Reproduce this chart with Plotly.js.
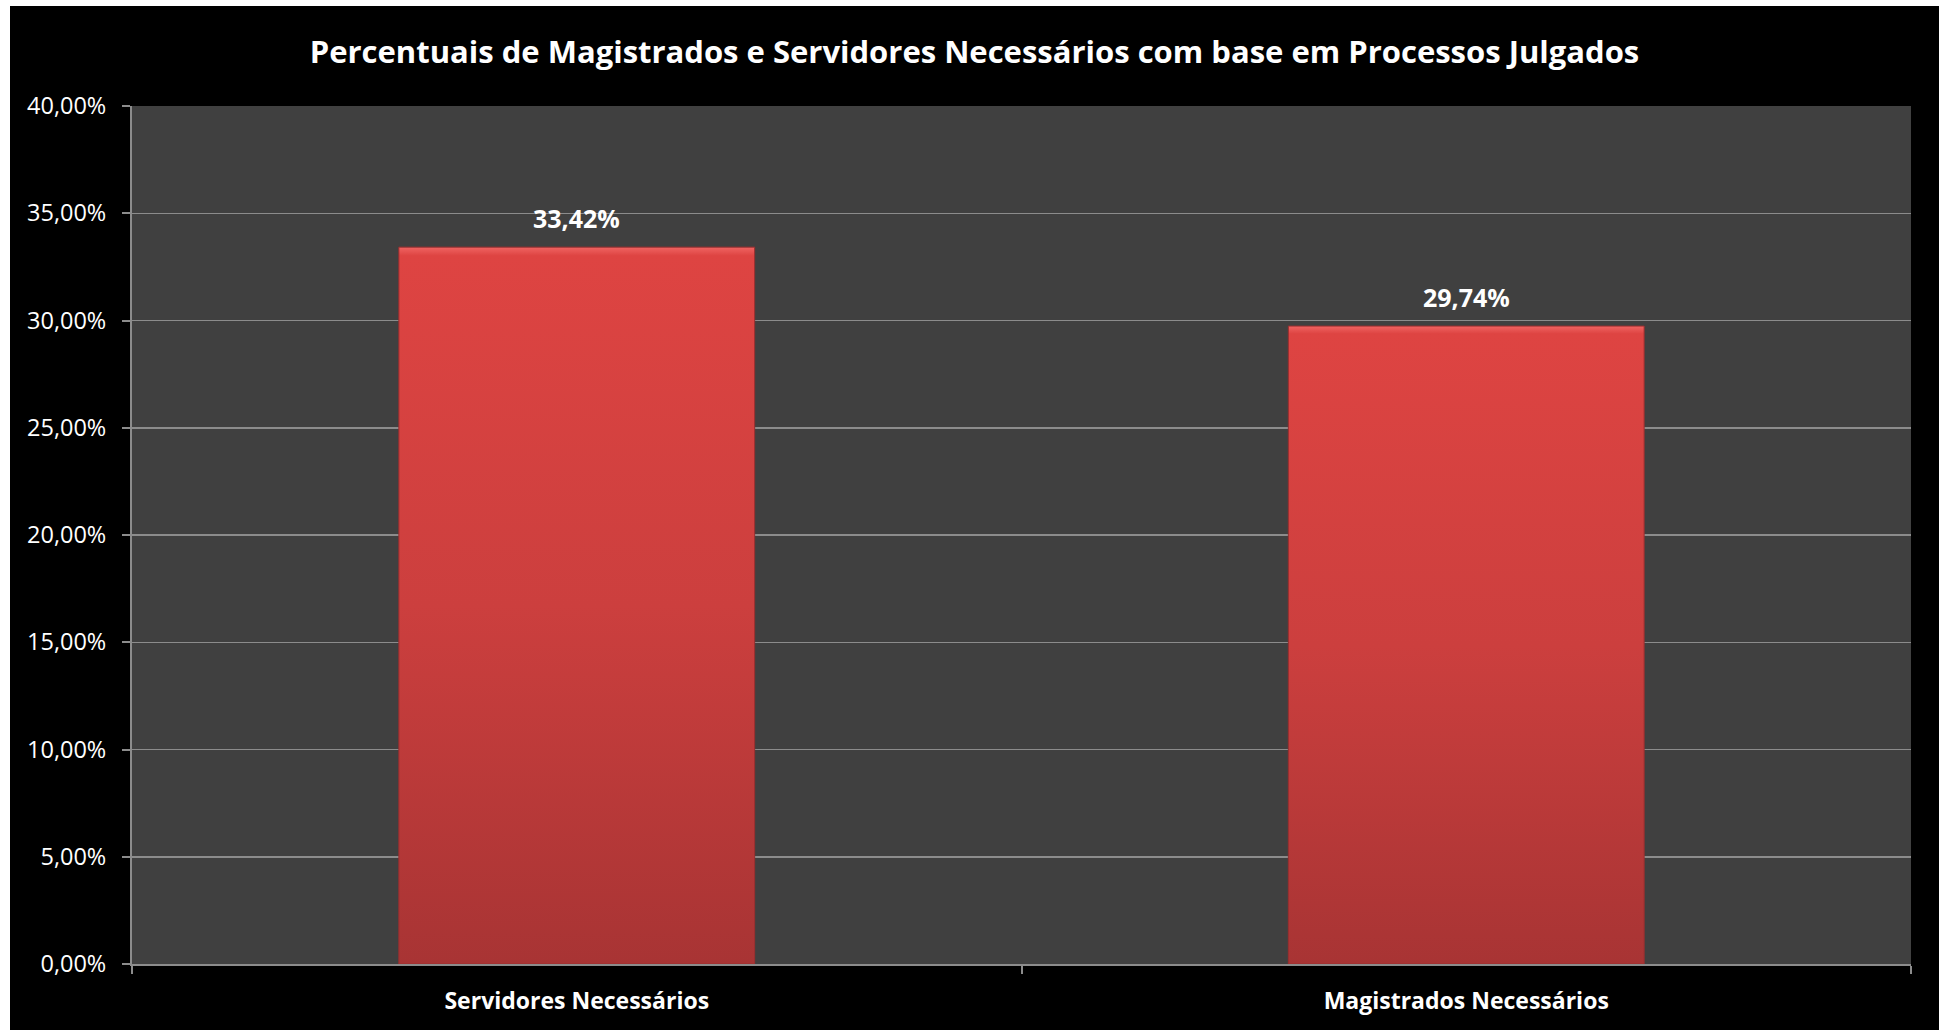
<!DOCTYPE html>
<html>
<head>
<meta charset="utf-8">
<script src="https://cdn.plot.ly/plotly-3.0.1.min.js"></script>
<style>
  html, body { margin: 0; padding: 0; background: #ffffff; }
  #chart { position: absolute; left: 10px; top: 6px; width: 1929px; height: 1024px; }
</style>
</head>
<body>
<div id="chart"></div>
<script>
const categories = ['Servidores Necessários', 'Magistrados Necessários'];
const values = [0.3342, 0.2974];
const yTickVals = [0, 0.05, 0.10, 0.15, 0.20, 0.25, 0.30, 0.35, 0.40];
const chartTitle = 'Percentuais de Magistrados e Servidores Necessários com base em Processos Julgados';

function fmtPct(v) {
  return (v * 100).toFixed(2).replace('.', ',') + '%';
}

const FONT = '"Open Sans", "DejaVu Sans", sans-serif';

const trace = {
  type: 'bar',
  x: categories,
  y: values,
  marker: { color: '#c73c3b', line: { color: '#9a2f2f', width: 1 } },
  hoverinfo: 'none'
};

const annotations = categories.map((c, i) => ({
  x: c, y: values[i], xref: 'x', yref: 'y',
  text: '<b>' + fmtPct(values[i]) + '</b>',
  showarrow: false, yanchor: 'bottom', yshift: 10,
  font: { family: FONT, size: 25, color: '#ffffff' }
}));

const layout = {
  width: 1929, height: 1024,
  paper_bgcolor: '#000000',
  plot_bgcolor: '#404040',
  margin: { l: 122, r: 28, t: 100, b: 66 },
  separators: ',.',
  showlegend: false,
  bargap: 0.6,
  title: {
    text: '<b>' + chartTitle + '</b>',
    font: { family: FONT, size: 31, color: '#ffffff' },
    x: 0.5, xanchor: 'center', y: 0.955, yanchor: 'middle'
  },
  xaxis: {
    type: 'category',
    showgrid: false,
    showline: true, linecolor: '#8c8c8c', linewidth: 2,
    ticks: 'outside', tickson: 'boundaries', ticklen: 8, tickcolor: '#8c8c8c', tickwidth: 2,
    tickfont: { family: FONT, size: 23, color: '#ffffff', weight: 'bold' },
    ticklabelstandoff: 15,
    zeroline: false
  },
  yaxis: {
    range: [0, 0.4],
    tickvals: yTickVals,
    tickformat: '.2%',
    showgrid: true, gridcolor: '#8c8c8c', gridwidth: 1.5,
    showline: true, linecolor: '#8c8c8c', linewidth: 2,
    ticks: 'outside', ticklen: 8, tickcolor: '#8c8c8c', tickwidth: 2,
    tickfont: { family: FONT, size: 23.5, color: '#ffffff' },
    ticklabelstandoff: 11,
    zeroline: false
  },
  annotations: annotations
};

Plotly.newPlot('chart', [trace], layout, { staticPlot: true, displayModeBar: false }).then(function (gd) {
  const svg = gd.querySelector('svg.main-svg');
  const ns = 'http://www.w3.org/2000/svg';
  let defs = svg.querySelector('defs');
  if (!defs) { defs = document.createElementNS(ns, 'defs'); svg.insertBefore(defs, svg.firstChild); }
  const grad = document.createElementNS(ns, 'linearGradient');
  grad.setAttribute('id', 'barGrad');
  grad.setAttribute('x1', '0'); grad.setAttribute('y1', '0');
  grad.setAttribute('x2', '0'); grad.setAttribute('y2', '1');
  [['0', '#f06462'], ['0.012', '#de4442'], ['0.5', '#cc3f3e'], ['1', '#a83434']].forEach(function (s) {
    const st = document.createElementNS(ns, 'stop');
    st.setAttribute('offset', s[0]);
    st.setAttribute('stop-color', s[1]);
    grad.appendChild(st);
  });
  defs.appendChild(grad);
  gd.querySelectorAll('.bars .point path').forEach(function (p) {
    p.style.fill = 'url(#barGrad)';
  });
});
</script>
</body>
</html>
